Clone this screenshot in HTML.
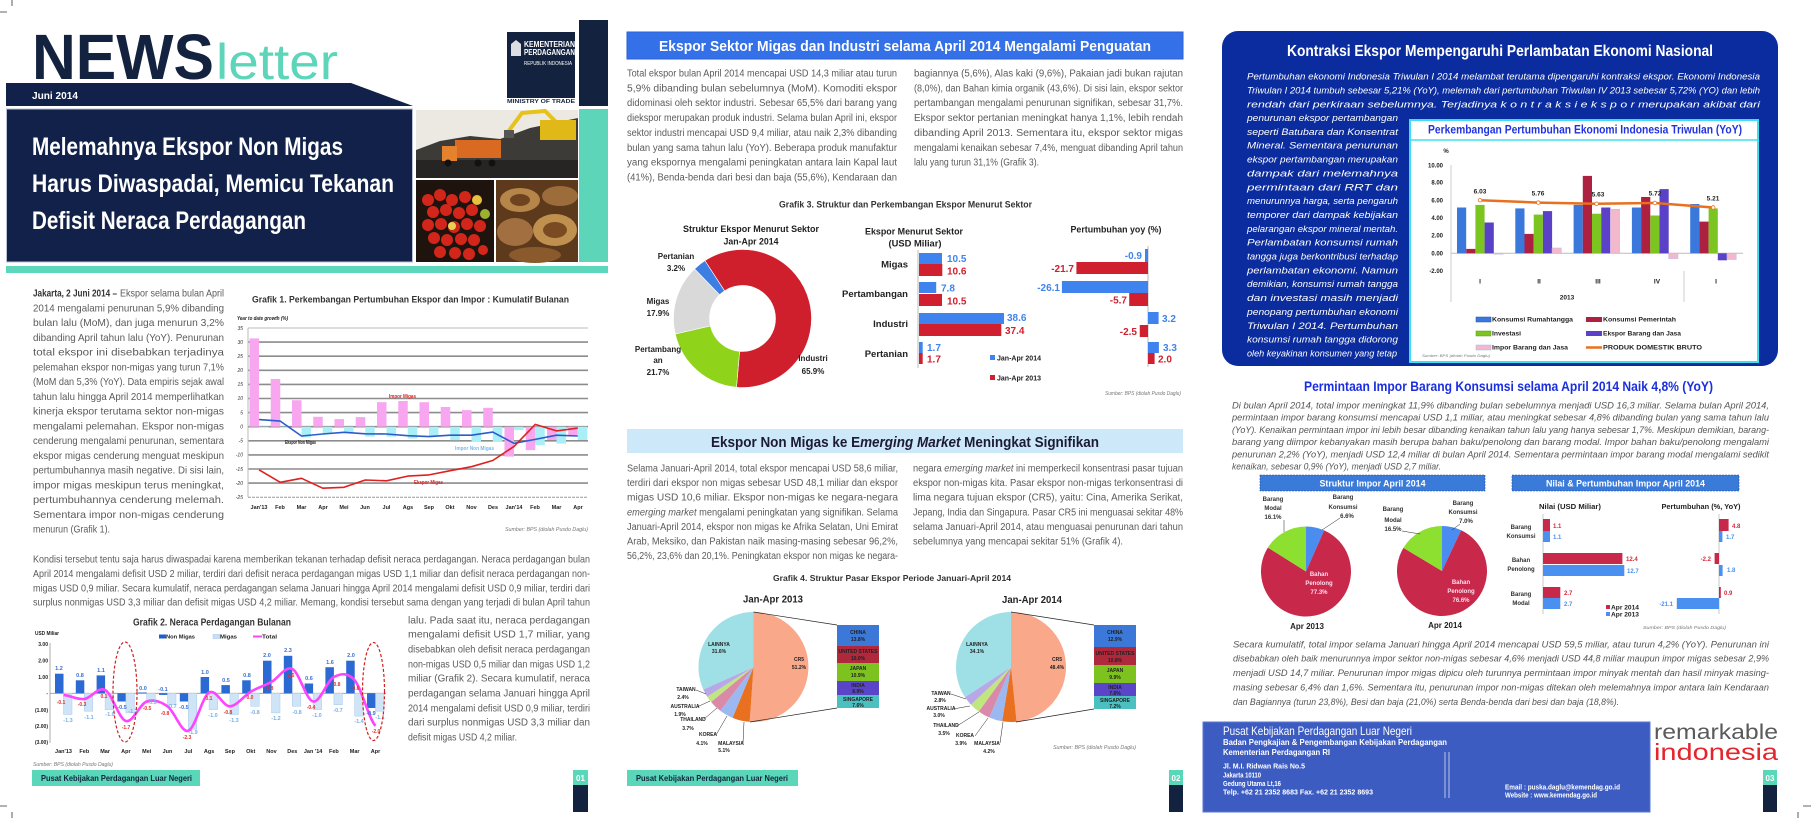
<!DOCTYPE html>
<html><head><meta charset="utf-8">
<style>
html,body{margin:0;padding:0;background:#fff;}
svg{display:block;}
text{font-family:"Liberation Sans",sans-serif;}
.p{font-size:10.5px;fill:#5b5b5b;}
.pm{font-size:10px;fill:#5b5b5b;}
.ri{font-size:9.5px;fill:#fff;font-style:italic;}
.gi{font-size:9.5px;fill:#555;font-style:italic;}
.b{font-weight:bold;}
.t5{font-size:5.5px;}
.t6{font-size:6px;}
.t7{font-size:7px;}
.t8{font-size:8px;}
.dk{fill:#222;}
.src{font-size:5.5px;fill:#777;font-style:italic;}
</style></head><body>
<svg width="1811" height="818" viewBox="0 0 1811 818" xmlns="http://www.w3.org/2000/svg">
<rect width="1811" height="818" fill="#fff"/>
<!-- crop marks -->
<path d="M0 12H7M12 0V6M0 806H7M12 812V818M1803 806H1811M1798 812V818" stroke="#333" stroke-width="0.8"/>

<!-- ================= LEFT PAGE ================= -->
<text x="32" y="79" font-size="64" font-weight="bold" fill="#13233f" textLength="182" lengthAdjust="spacingAndGlyphs">NEWS</text>
<text x="216" y="79" font-size="50" fill="#5dd5b9" textLength="122" lengthAdjust="spacingAndGlyphs">letter</text>
<polygon points="6,83 351,83 413,106 6,106" fill="#112149"/>
<text x="32" y="99" font-size="10" font-weight="bold" fill="#fff" textLength="46" lengthAdjust="spacingAndGlyphs">Juni 2014</text>
<rect x="6.5" y="109" width="406" height="153" fill="#112149" stroke="#b8c0d4" stroke-width="1"/>
<text x="32" y="155" font-size="25" font-weight="bold" fill="#fff" textLength="311" lengthAdjust="spacingAndGlyphs">Melemahnya Ekspor Non Migas</text>
<text x="32" y="192" font-size="25" font-weight="bold" fill="#fff" textLength="362" lengthAdjust="spacingAndGlyphs">Harus Diwaspadai, Memicu Tekanan</text>
<text x="32" y="229" font-size="25" font-weight="bold" fill="#fff" textLength="274" lengthAdjust="spacingAndGlyphs">Defisit Neraca Perdagangan</text>

<!-- logo -->
<rect x="507" y="32" width="68" height="66" fill="#13233f"/>
<path d="M511 44 L516 40 L521 44 L521 56 L511 56 Z" fill="#fff" opacity="0.85"/>
<text x="524" y="47" font-size="8" font-weight="bold" fill="#fff" textLength="51" lengthAdjust="spacingAndGlyphs">KEMENTERIAN</text>
<text x="524" y="55" font-size="8" font-weight="bold" fill="#fff" textLength="51" lengthAdjust="spacingAndGlyphs">PERDAGANGAN</text>
<text x="524" y="65" font-size="5" fill="#fff" textLength="48" lengthAdjust="spacingAndGlyphs">REPUBLIK INDONESIA</text>
<text x="507" y="103" font-size="5" font-weight="bold" fill="#13233f" textLength="68" lengthAdjust="spacingAndGlyphs">MINISTRY OF TRADE</text>
<rect x="579" y="20" width="29" height="86" fill="#13233f"/>
<rect x="579" y="109" width="29" height="153" fill="#5dd5b9"/>

<!-- truck image -->
<rect x="416" y="110" width="162" height="68" fill="#ece9e2"/>
<polygon points="416,150 440,141 470,136 500,139 530,128 578,118 578,178 416,178" fill="#3c3b38"/>
<rect x="416" y="160" width="162" height="18" fill="#262523"/>
<rect x="455" y="140" width="46" height="18" fill="#d86a22"/>
<rect x="442" y="146" width="15" height="15" fill="#e5822e"/>
<circle cx="448" cy="163" r="3.5" fill="#111"/><circle cx="478" cy="163" r="3.5" fill="#111"/><circle cx="492" cy="163" r="3.5" fill="#111"/>
<path d="M508 132 L522 113 L545 111 L560 126" stroke="#e6c21c" stroke-width="4" fill="none"/>
<rect x="540" y="120" width="36" height="20" fill="#e0b818"/>
<rect x="504" y="130" width="10" height="8" fill="#555"/>
<!-- coffee image -->
<rect x="416" y="180" width="78" height="82" fill="#1f130d"/>
<g fill="#d3261b">
<circle cx="428" cy="200" r="6"/><circle cx="440" cy="195" r="6"/><circle cx="452" cy="200" r="6"/><circle cx="465" cy="197" r="6"/>
<circle cx="433" cy="212" r="6"/><circle cx="446" cy="210" r="6"/><circle cx="459" cy="213" r="6"/><circle cx="472" cy="210" r="6"/>
<circle cx="428" cy="225" r="6"/><circle cx="441" cy="224" r="6"/><circle cx="454" cy="227" r="6"/><circle cx="467" cy="224" r="6"/><circle cx="480" cy="226" r="6"/>
<circle cx="434" cy="238" r="6"/><circle cx="447" cy="240" r="6"/><circle cx="461" cy="239" r="6"/><circle cx="474" cy="240" r="6"/>
<circle cx="440" cy="252" r="6"/><circle cx="455" cy="253" r="6"/><circle cx="469" cy="254" r="6"/><circle cx="483" cy="250" r="5"/>
</g>
<circle cx="477" cy="200" r="5" fill="#e8c040"/><circle cx="485" cy="214" r="5" fill="#9bb030"/><circle cx="452" cy="226" r="4" fill="#e8d050"/>
<!-- baskets image -->
<rect x="496" y="180" width="82" height="82" fill="#5e3a1c"/>
<ellipse cx="520" cy="200" rx="20" ry="12" fill="#b5854a"/>
<ellipse cx="560" cy="196" rx="18" ry="10" fill="#9c6c3a"/>
<ellipse cx="515" cy="232" rx="18" ry="14" fill="#a27040"/>
<ellipse cx="555" cy="230" rx="22" ry="16" fill="#c0904e"/>
<ellipse cx="535" cy="255" rx="26" ry="8" fill="#8a5a2c"/>
<ellipse cx="555" cy="230" rx="12" ry="8" fill="#7a4a22"/>
<ellipse cx="520" cy="200" rx="10" ry="6" fill="#6e4420"/>

<rect x="6" y="266" width="602" height="7" fill="#5dd8bd"/>

<!-- left paragraph -->
<text x="33" y="296.5" class="p b" fill="#333" style="fill:#333" textLength="84" lengthAdjust="spacingAndGlyphs">Jakarta, 2 Juni 2014 –</text>
<text x="120" y="296.5" class="p" textLength="104" lengthAdjust="spacingAndGlyphs">Ekspor selama bulan April</text>
<text x="33" y="311.25" class="p" textLength="191" lengthAdjust="spacingAndGlyphs">2014 mengalami penurunan 5,9% dibanding</text>
<text x="33" y="326" class="p" textLength="191" lengthAdjust="spacingAndGlyphs">bulan lalu (MoM), dan juga menurun 3,2%</text>
<text x="33" y="340.75" class="p" textLength="191" lengthAdjust="spacingAndGlyphs">dibanding April tahun lalu (YoY). Penurunan</text>
<text x="33" y="355.5" class="p" textLength="191" lengthAdjust="spacingAndGlyphs">total ekspor ini disebabkan terjadinya</text>
<text x="33" y="370.25" class="p" textLength="191" lengthAdjust="spacingAndGlyphs">pelemahan ekspor non-migas yang turun 7,1%</text>
<text x="33" y="385" class="p" textLength="191" lengthAdjust="spacingAndGlyphs">(MoM dan 5,3% (YoY).  Data empiris sejak awal</text>
<text x="33" y="399.75" class="p" textLength="191" lengthAdjust="spacingAndGlyphs">tahun lalu hingga April 2014 memperlihatkan</text>
<text x="33" y="414.5" class="p" textLength="191" lengthAdjust="spacingAndGlyphs">kinerja ekspor terutama sektor non-migas</text>
<text x="33" y="429.25" class="p" textLength="191" lengthAdjust="spacingAndGlyphs">mengalami pelemahan. Ekspor non-migas</text>
<text x="33" y="444" class="p" textLength="191" lengthAdjust="spacingAndGlyphs">cenderung mengalami penurunan, sementara</text>
<text x="33" y="458.75" class="p" textLength="191" lengthAdjust="spacingAndGlyphs">ekspor migas cenderung menguat meskipun</text>
<text x="33" y="473.5" class="p" textLength="191" lengthAdjust="spacingAndGlyphs">pertumbuhannya masih negative. Di sisi lain,</text>
<text x="33" y="488.25" class="p" textLength="191" lengthAdjust="spacingAndGlyphs">impor migas meskipun terus meningkat,</text>
<text x="33" y="503" class="p" textLength="191" lengthAdjust="spacingAndGlyphs">pertumbuhannya cenderung melemah.</text>
<text x="33" y="517.75" class="p" textLength="191" lengthAdjust="spacingAndGlyphs">Sementara impor non-migas cenderung</text>
<text x="33" y="532.5" class="p" textLength="77" lengthAdjust="spacingAndGlyphs">menurun (Grafik 1).</text>

<!-- Grafik 1 -->
<text x="252" y="302.5" font-size="9.5" font-weight="bold" fill="#333" textLength="317" lengthAdjust="spacingAndGlyphs">Grafik 1. Perkembangan Pertumbuhan Ekspor dan Impor : Kumulatif Bulanan</text>
<text x="237" y="320" font-size="5" font-weight="bold" font-style="italic" fill="#222" textLength="51" lengthAdjust="spacingAndGlyphs">Year to date growth (%)</text>
<g stroke="#8c8c8c" stroke-width="1.6">
<line x1="248" y1="328" x2="588" y2="328" stroke="#bbb" stroke-width="1"/>
<line x1="248" y1="342.1" x2="588" y2="342.1"/><line x1="248" y1="356.2" x2="588" y2="356.2"/>
<line x1="248" y1="370.3" x2="588" y2="370.3"/><line x1="248" y1="384.4" x2="588" y2="384.4"/>
<line x1="248" y1="398.5" x2="588" y2="398.5"/><line x1="248" y1="412.6" x2="588" y2="412.6"/>
<line x1="248" y1="426.7" x2="588" y2="426.7"/><line x1="248" y1="440.8" x2="588" y2="440.8"/>
<line x1="248" y1="454.9" x2="588" y2="454.9"/><line x1="248" y1="469" x2="588" y2="469"/>
<line x1="248" y1="483.1" x2="588" y2="483.1"/><line x1="248" y1="497.2" x2="588" y2="497.2" stroke="#999" stroke-width="1" stroke-dasharray="3,1"/>
</g>
<line x1="248" y1="328" x2="248" y2="497" stroke="#bbb" stroke-width="1"/>
<g font-size="5" font-style="italic" fill="#333" text-anchor="end">
<text x="243" y="330">35</text><text x="243" y="344">30</text><text x="243" y="358">25</text><text x="243" y="372">20</text>
<text x="243" y="386">15</text><text x="243" y="400">10</text><text x="243" y="414.5">5</text><text x="243" y="428.5">0</text>
<text x="243" y="442.5">-5</text><text x="243" y="456.5">-10</text><text x="243" y="471">-15</text><text x="243" y="485">-20</text><text x="243" y="499">-25</text>
</g>
<g fill="#f7a6ef">
<rect x="249.5" y="338.4" width="9.5" height="88.3"/><rect x="270.75" y="379" width="9.5" height="47.7"/>
<rect x="292" y="400.2" width="9.5" height="26.5"/><rect x="313.25" y="416.8" width="9.5" height="9.9"/>
<rect x="334.5" y="419.1" width="9.5" height="7.6"/><rect x="355.75" y="417.1" width="9.5" height="9.6"/>
<rect x="377" y="402.2" width="9.5" height="24.5"/><rect x="398.25" y="401" width="9.5" height="25.7"/>
<rect x="419.5" y="402.2" width="9.5" height="24.5"/><rect x="440.75" y="407" width="9.5" height="19.7"/>
<rect x="462" y="410.1" width="9.5" height="16.6"/><rect x="483.25" y="407.8" width="9.5" height="18.9"/>
<rect x="504.5" y="426.7" width="9.5" height="29.9"/><rect x="525.75" y="426.7" width="9.5" height="23.4"/>
<rect x="547" y="426.7" width="9.5" height="13.3"/><rect x="568.25" y="426.7" width="9.5" height="8.5"/>
</g>
<g fill="#a9eff7">
<rect x="259" y="426.7" width="9.5" height="1.1"/><rect x="280.25" y="426.7" width="9.5" height="0.6"/>
<rect x="301.5" y="426.7" width="9.5" height="10.7"/><rect x="322.75" y="426.7" width="9.5" height="7.1"/>
<rect x="344" y="426.7" width="9.5" height="5.9"/><rect x="365.25" y="426.7" width="9.5" height="9.9"/>
<rect x="386.5" y="426.7" width="9.5" height="9.9"/><rect x="407.75" y="426.7" width="9.5" height="11.8"/>
<rect x="429" y="426.7" width="9.5" height="9.9"/><rect x="450.25" y="426.7" width="9.5" height="13.5"/>
<rect x="471.5" y="426.7" width="9.5" height="14.9"/><rect x="492.75" y="426.7" width="9.5" height="14.9"/>
<rect x="514" y="426.7" width="9.5" height="3.4"/><rect x="535.25" y="426.7" width="9.5" height="18.3"/>
<rect x="556.5" y="426.7" width="9.5" height="16.9"/><rect x="577.75" y="426.7" width="9.5" height="13.3"/>
</g>
<polyline fill="none" stroke="#2c5ccc" stroke-width="1.6" stroke-linejoin="round" points="259,419.6 280.25,421.1 301.5,436 322.75,434 344,432.3 365.25,433.8 386.5,434 407.75,435.7 429,436.6 450.25,435.2 471.5,435.2 492.75,432.1 514,443.3 535.25,439.4 556.5,435.2 577.75,436"/>
<polyline fill="none" stroke="#e02020" stroke-width="1.6" stroke-linejoin="round" points="259,469.8 280.25,482.3 301.5,478.3 322.75,488.2 344,487.3 365.25,480 386.5,480.8 407.75,476.1 429,474.9 450.25,470.7 471.5,466.7 492.75,460.5 514,446.4 535.25,424.4 556.5,430.9 577.75,428.1"/>
<g font-size="5" font-weight="bold">
<text x="389" y="398" fill="#e02020" textLength="27" lengthAdjust="spacingAndGlyphs">Impor Migas</text>
<text x="285" y="444" fill="#222" textLength="31" lengthAdjust="spacingAndGlyphs">Ekspor Non Migas</text>
<text x="455" y="450" fill="#7ab8f0" textLength="39" lengthAdjust="spacingAndGlyphs">Impor Non Migas</text>
<text x="414" y="484" fill="#e02020" textLength="29" lengthAdjust="spacingAndGlyphs">Ekspor Migas</text>
</g>
<g font-size="5.5" font-weight="bold" fill="#222" text-anchor="middle">
<text x="259" y="509">Jan'13</text><text x="280" y="509">Feb</text><text x="301.5" y="509">Mar</text><text x="323" y="509">Apr</text>
<text x="344" y="509">Mei</text><text x="365" y="509">Jun</text><text x="386.5" y="509">Jul</text><text x="408" y="509">Ags</text>
<text x="429" y="509">Sep</text><text x="450" y="509">Okt</text><text x="471.5" y="509">Nov</text><text x="493" y="509">Des</text>
<text x="514" y="509">Jan'14</text><text x="535" y="509">Feb</text><text x="556.5" y="509">Mar</text><text x="578" y="509">Apr</text>
</g>
<text x="505" y="531" class="src" textLength="83" lengthAdjust="spacingAndGlyphs">Sumber: BPS (diolah Pusdo Daglu)</text>

<!-- bottom paragraph -->
<text x="33" y="562.5" class="p" textLength="557" lengthAdjust="spacingAndGlyphs">Kondisi tersebut tentu saja harus diwaspadai karena memberikan tekanan terhadap defisit neraca perdagangan. Neraca perdagangan bulan</text>
<text x="33" y="577" class="p" textLength="557" lengthAdjust="spacingAndGlyphs">April 2014 mengalami defisit USD 2 miliar, terdiri dari defisit neraca perdagangan migas USD 1,1 miliar dan defisit neraca perdagangan non-</text>
<text x="33" y="591.5" class="p" textLength="557" lengthAdjust="spacingAndGlyphs">migas USD 0,9 miliar. Secara kumulatif, neraca perdagangan selama Januari hingga April 2014 mengalami defisit USD 0,9 miliar, terdiri dari</text>
<text x="33" y="605.5" class="p" textLength="557" lengthAdjust="spacingAndGlyphs">surplus nonmigas USD 3,3 miliar dan defisit migas USD 4,2 miliar. Memang, kondisi tersebut sama dengan yang terjadi di bulan April tahun</text>

<text x="408" y="623.5" class="p" textLength="182" lengthAdjust="spacingAndGlyphs">lalu. Pada saat itu, neraca perdagangan</text>
<text x="408" y="637.5" class="p" textLength="182" lengthAdjust="spacingAndGlyphs">mengalami defisit USD 1,7 miliar, yang</text>
<text x="408" y="652.5" class="p" textLength="182" lengthAdjust="spacingAndGlyphs">disebabkan oleh defisit neraca perdagangan</text>
<text x="408" y="667.5" class="p" textLength="182" lengthAdjust="spacingAndGlyphs">non-migas USD 0,5 miliar dan migas USD 1,2</text>
<text x="408" y="681.5" class="p" textLength="182" lengthAdjust="spacingAndGlyphs">miliar (Grafik 2). Secara kumulatif, neraca</text>
<text x="408" y="696.5" class="p" textLength="182" lengthAdjust="spacingAndGlyphs">perdagangan selama Januari hingga April</text>
<text x="408" y="711.5" class="p" textLength="182" lengthAdjust="spacingAndGlyphs">2014 mengalami defisit USD 0,9 miliar, terdiri</text>
<text x="408" y="725.5" class="p" textLength="182" lengthAdjust="spacingAndGlyphs">dari surplus nonmigas USD 3,3 miliar dan</text>
<text x="408" y="740.5" class="p" textLength="109" lengthAdjust="spacingAndGlyphs">defisit migas USD 4,2 miliar.</text>

<!-- Grafik 2 -->
<text x="133" y="625.5" font-size="10" font-weight="bold" fill="#333" textLength="158" lengthAdjust="spacingAndGlyphs">Grafik 2. Neraca Perdagangan Bulanan</text>
<text x="35" y="635" font-size="5.5" font-weight="bold" fill="#222" textLength="24" lengthAdjust="spacingAndGlyphs">USD Miliar</text>
<rect x="159" y="634.5" width="7" height="4" fill="#1f5fc8"/>
<text x="166" y="638.5" font-size="5.5" font-weight="bold" fill="#222" textLength="29" lengthAdjust="spacingAndGlyphs">Non Migas</text>
<rect x="213" y="634.5" width="7" height="4" fill="#c7e0f6" stroke="#9cc0e8" stroke-width="0.5"/>
<text x="220" y="638.5" font-size="5.5" font-weight="bold" fill="#222" textLength="17" lengthAdjust="spacingAndGlyphs">Migas</text>
<line x1="253" y1="636.5" x2="262" y2="636.5" stroke="#ff44ff" stroke-width="2"/>
<text x="262" y="638.5" font-size="5.5" font-weight="bold" fill="#222" textLength="15" lengthAdjust="spacingAndGlyphs">Total</text>
<g font-size="5" font-weight="bold" fill="#222" text-anchor="end">
<text x="48" y="646">3.00</text><text x="48" y="662.5">2.00</text><text x="48" y="679">1.00</text><text x="48" y="695">-</text>
<text x="48" y="712">(1.00)</text><text x="48" y="728">(2.00)</text><text x="48" y="744">(3.00)</text>
</g>
<line x1="50" y1="643" x2="50" y2="743" stroke="#999" stroke-width="0.8"/>
<line x1="50" y1="693.3" x2="386" y2="693.3" stroke="#999" stroke-width="0.8"/>
<g fill="#2a6ad2">
<rect x="55" y="673.7" width="8.5" height="19.6"/><rect x="75.8" y="680.3" width="8.5" height="13"/>
<rect x="96.6" y="675.4" width="8.5" height="17.9"/><rect x="117.4" y="693.3" width="8.5" height="8.2"/>
<rect x="138.2" y="692.5" width="8.5" height="0.8"/><rect x="159" y="693.3" width="8.5" height="1.6"/>
<rect x="179.8" y="693.3" width="8.5" height="8.2"/><rect x="200.6" y="677" width="8.5" height="16.3"/>
<rect x="221.4" y="685.1" width="8.5" height="8.2"/><rect x="242.2" y="680.3" width="8.5" height="13"/>
<rect x="263" y="660.7" width="8.5" height="32.6"/><rect x="283.8" y="655.8" width="8.5" height="37.5"/>
<rect x="304.6" y="683.5" width="8.5" height="9.8"/><rect x="325.4" y="667.2" width="8.5" height="26.1"/>
<rect x="346.2" y="660.7" width="8.5" height="32.6"/><rect x="367" y="693.3" width="8.5" height="14.7"/>
</g>
<g fill="#cfe4f7" stroke="#a9c9ea" stroke-width="0.5">
<rect x="63.5" y="693.3" width="8.5" height="21.2"/><rect x="84.3" y="693.3" width="8.5" height="17.9"/>
<rect x="105.1" y="693.3" width="8.5" height="16.3"/><rect x="125.9" y="693.3" width="8.5" height="19.6"/>
<rect x="146.7" y="693.3" width="8.5" height="8.2"/><rect x="167.5" y="693.3" width="8.5" height="11.4"/>
<rect x="188.3" y="693.3" width="8.5" height="35.9"/><rect x="209.1" y="693.3" width="8.5" height="16.3"/>
<rect x="229.9" y="693.3" width="8.5" height="21.2"/><rect x="250.7" y="693.3" width="8.5" height="13"/>
<rect x="271.5" y="693.3" width="8.5" height="19.6"/><rect x="292.3" y="693.3" width="8.5" height="13"/>
<rect x="313.1" y="693.3" width="8.5" height="16.3"/><rect x="333.9" y="693.3" width="8.5" height="11.4"/>
<rect x="354.7" y="693.3" width="8.5" height="22.8"/><rect x="375.5" y="693.3" width="8.5" height="17.9"/>
</g>
<path fill="none" stroke="#ff44ff" stroke-width="2.6" d="M63.5,694.9 C70.43,695.58 77.37,699.82 84.3,699.0 C91.23,698.18 98.17,686.33 105.1,690.0 C112.03,693.67 118.97,719.08 125.9,721.0 C132.83,722.92 139.77,703.95 146.7,701.5 C153.63,699.05 160.57,701.42 167.5,706.3 C174.43,711.18 181.37,733.1 188.3,730.8 C195.23,728.5 202.17,696.58 209.1,692.5 C216.03,688.42 222.97,706.43 229.9,706.3 C236.83,706.17 243.77,695.77 250.7,691.7 C257.63,687.63 264.57,685.7 271.5,681.9 C278.43,678.1 285.37,665.63 292.3,668.9 C299.23,672.17 306.17,700.15 313.1,701.5 C320.03,702.85 326.97,680.53 333.9,677.0 C340.83,673.47 347.77,672.15 354.7,680.3 C361.63,688.45 368.57,718.3 375.5,725.9"/>
<g font-size="5.5" font-weight="bold" fill="#3a6fd0" text-anchor="middle">
<text x="59" y="670">1.2</text><text x="80" y="677">0.8</text><text x="101" y="672">1.1</text><text x="122" y="709">-0.5</text>
<text x="143" y="690">0.0</text><text x="163" y="691">-0.1</text><text x="184" y="709">-0.5</text><text x="205" y="674">1.0</text>
<text x="226" y="682">0.5</text><text x="247" y="677">0.8</text><text x="267" y="657">2.0</text><text x="288" y="652">2.3</text>
<text x="309" y="680">0.6</text><text x="330" y="664">1.6</text><text x="351" y="657">2.0</text><text x="371" y="715">-0.9</text>
</g>
<g font-size="5.5" font-weight="bold" fill="#7aaee6" text-anchor="middle">
<text x="68" y="722">-1.3</text><text x="89" y="719">-1.1</text><text x="110" y="716">-1.0</text><text x="133" y="713">-1.2</text>
<text x="152" y="704">-0.5</text><text x="172" y="708">-0.7</text><text x="193" y="734">-1.9</text><text x="213" y="717">-1.0</text>
<text x="234" y="722">-1.3</text><text x="255" y="714">-0.8</text><text x="276" y="720">-1.2</text><text x="297" y="714">-0.8</text>
<text x="317" y="717">-1.0</text><text x="338" y="712">-0.7</text><text x="359" y="723">-1.4</text><text x="380" y="719">-1.1</text>
</g>
<g font-size="5" font-weight="bold" fill="#e03030" text-anchor="middle">
<text x="61" y="704">-0.1</text><text x="82" y="706">-0.3</text><text x="104" y="698">0.1</text><text x="126" y="729">-1.7</text>
<text x="147" y="710">-0.5</text><text x="165" y="715">-0.8</text><text x="187" y="739">-2.3</text><text x="209" y="700">0.1</text>
<text x="228" y="714">-0.8</text><text x="250" y="699">0.0</text><text x="270" y="690">0.8</text><text x="291" y="677">1.5</text>
<text x="311" y="709">-0.4</text><text x="337" y="686">0.8</text><text x="356" y="690">0.6</text><text x="376" y="733">-2.0</text>
</g>
<ellipse cx="125" cy="692" rx="12" ry="50" fill="none" stroke="#d02020" stroke-width="1.2" stroke-dasharray="3,2"/>
<ellipse cx="373.5" cy="691.5" rx="11" ry="49" fill="none" stroke="#d02020" stroke-width="1.2" stroke-dasharray="3,2"/>
<g font-size="5.5" font-weight="bold" fill="#222" text-anchor="middle">
<text x="63.5" y="753">Jan'13</text><text x="84.3" y="753">Feb</text><text x="105.1" y="753">Mar</text><text x="125.9" y="753">Apr</text>
<text x="146.7" y="753">Mei</text><text x="167.5" y="753">Jun</text><text x="188.3" y="753">Jul</text><text x="209.1" y="753">Ags</text>
<text x="229.9" y="753">Sep</text><text x="250.7" y="753">Okt</text><text x="271.5" y="753">Nov</text><text x="292.3" y="753">Des</text>
<text x="313.1" y="753">Jan '14</text><text x="333.9" y="753">Feb</text><text x="354.7" y="753">Mar</text><text x="375.5" y="753">Apr</text>
</g>
<text x="33" y="766" class="src" textLength="80" lengthAdjust="spacingAndGlyphs">Sumber: BPS (diolah Pusdo Daglu)</text>
<rect x="32" y="770" width="168" height="16" fill="#5ad6b9"/>
<text x="41" y="781" font-size="8.5" font-weight="bold" fill="#13233f" textLength="151" lengthAdjust="spacingAndGlyphs">Pusat Kebijakan Perdagangan Luar Negeri</text>
<rect x="573" y="770" width="15" height="15" fill="#5ad6b9"/>
<rect x="573" y="785" width="15" height="27" fill="#13233f"/>
<text x="580.5" y="781" font-size="8" font-weight="bold" fill="#fff" text-anchor="middle">01</text>

<!-- ================= MIDDLE PAGE ================= -->
<rect x="627" y="32" width="556" height="27" fill="#3471e8" stroke="#2a5ed6" stroke-width="1"/>
<text x="659" y="51" font-size="15" font-weight="bold" fill="#fff" textLength="492" lengthAdjust="spacingAndGlyphs">Ekspor Sektor Migas dan Industri selama April 2014 Mengalami Penguatan</text>

<text x="627" y="76.5" class="pm" textLength="270" lengthAdjust="spacingAndGlyphs">Total ekspor bulan April 2014 mencapai USD 14,3 miliar atau turun</text>
<text x="627" y="91.4" class="pm" textLength="270" lengthAdjust="spacingAndGlyphs">5,9% dibanding bulan sebelumnya (MoM). Komoditi ekspor</text>
<text x="627" y="106.2" class="pm" textLength="270" lengthAdjust="spacingAndGlyphs">didominasi oleh sektor industri. Sebesar 65,5% dari barang yang</text>
<text x="627" y="121.1" class="pm" textLength="270" lengthAdjust="spacingAndGlyphs">diekspor merupakan produk industri. Selama bulan April ini, ekspor</text>
<text x="627" y="135.9" class="pm" textLength="270" lengthAdjust="spacingAndGlyphs">sektor industri mencapai USD 9,4 miliar, atau naik 2,3% dibanding</text>
<text x="627" y="150.8" class="pm" textLength="270" lengthAdjust="spacingAndGlyphs">bulan yang sama tahun lalu (YoY). Beberapa produk manufaktur</text>
<text x="627" y="165.6" class="pm" textLength="270" lengthAdjust="spacingAndGlyphs">yang ekspornya mengalami peningkatan antara lain Kapal laut</text>
<text x="627" y="180.5" class="pm" textLength="270" lengthAdjust="spacingAndGlyphs">(41%), Benda-benda dari besi dan baja (55,6%), Kendaraan dan</text>
<text x="914" y="76.5" class="pm" textLength="269" lengthAdjust="spacingAndGlyphs">bagiannya (5,6%), Alas kaki (9,6%), Pakaian jadi bukan rajutan</text>
<text x="914" y="91.4" class="pm" textLength="269" lengthAdjust="spacingAndGlyphs">(8,0%), dan Bahan kimia organik (43,6%). Di sisi lain, ekspor sektor</text>
<text x="914" y="106.2" class="pm" textLength="269" lengthAdjust="spacingAndGlyphs">pertambangan mengalami penurunan signifikan, sebesar 31,7%.</text>
<text x="914" y="121.1" class="pm" textLength="269" lengthAdjust="spacingAndGlyphs">Ekspor sektor pertanian meningkat hanya 1,1%, lebih rendah</text>
<text x="914" y="135.9" class="pm" textLength="269" lengthAdjust="spacingAndGlyphs">dibanding April 2013. Sementara itu, ekspor sektor migas</text>
<text x="914" y="150.8" class="pm" textLength="269" lengthAdjust="spacingAndGlyphs">mengalami kenaikan sebesar 7,4%, menguat dibanding April tahun</text>
<text x="914" y="165.6" class="pm" textLength="125" lengthAdjust="spacingAndGlyphs">lalu yang turun 31,1% (Grafik 3).</text>

<!-- Grafik 3 -->
<text x="779" y="207.5" font-size="9" font-weight="bold" fill="#333" textLength="253" lengthAdjust="spacingAndGlyphs">Grafik 3. Struktur dan Perkembangan Ekspor Menurut Sektor</text>
<text x="751" y="232" font-size="9" font-weight="bold" fill="#222" text-anchor="middle" textLength="136" lengthAdjust="spacingAndGlyphs">Struktur Ekspor Menurut Sektor</text>
<text x="751" y="244.5" font-size="9" font-weight="bold" fill="#222" text-anchor="middle" textLength="55" lengthAdjust="spacingAndGlyphs">Jan-Apr 2014</text>
<path d="M704.92 260.63 A69 69 0 1 1 736.49 387.24 L739.62 351.37 A33 33 0 1 0 724.53 290.82 Z" fill="#cf1f2c" stroke="#fff" stroke-width="0.6"/>
<path d="M736.49 387.24 A69 69 0 0 1 675.27 334.02 L710.35 325.92 A33 33 0 0 0 739.62 351.37 Z" fill="#8fd31a" stroke="#fff" stroke-width="0.6"/>
<path d="M675.27 334.02 A69 69 0 0 1 694.57 268.87 L719.58 294.76 A33 33 0 0 0 710.35 325.92 Z" fill="#d9d9d9" stroke="#fff" stroke-width="0.6"/>
<path d="M694.57 268.87 A69 69 0 0 1 704.92 260.63 L724.53 290.82 A33 33 0 0 0 719.58 294.76 Z" fill="#3c7ee2" stroke="#fff" stroke-width="0.6"/>
<g font-size="8" font-weight="bold" fill="#222" text-anchor="middle">
<text x="676" y="259">Pertanian</text><text x="676" y="271">3.2%</text>
<text x="658" y="304">Migas</text><text x="658" y="316">17.9%</text>
<text x="658" y="352">Pertambang</text><text x="658" y="363">an</text><text x="658" y="375">21.7%</text>
<text x="813" y="361">Industri</text><text x="813" y="374">65.9%</text>
</g>
<text x="914" y="234.5" font-size="9.5" font-weight="bold" fill="#222" text-anchor="middle" textLength="98" lengthAdjust="spacingAndGlyphs">Ekspor Menurut Sektor</text>
<text x="915" y="246.5" font-size="9.5" font-weight="bold" fill="#222" text-anchor="middle" textLength="53" lengthAdjust="spacingAndGlyphs">(USD Miliar)</text>
<g font-size="9.5" font-weight="bold" fill="#222" text-anchor="end">
<text x="908" y="267.5">Migas</text><text x="908" y="297">Pertambangan</text><text x="908" y="327">Industri</text><text x="908" y="357">Pertanian</text>
</g>
<line x1="918" y1="250" x2="918" y2="368" stroke="#aaa" stroke-width="0.8"/>
<g fill="#3f84ee">
<rect x="919" y="253" width="23" height="11"/><rect x="919" y="282" width="17.2" height="11"/>
<rect x="919" y="313" width="85" height="11"/><rect x="919" y="342" width="3.7" height="11"/>
</g>
<g fill="#d01f2e">
<rect x="919" y="264" width="23.3" height="12"/><rect x="919" y="294" width="23" height="12"/>
<rect x="919" y="324" width="82.3" height="12"/><rect x="919" y="353" width="3.7" height="11"/>
</g>
<g font-size="10" font-weight="bold">
<text x="947" y="262" fill="#3f84ee">10.5</text><text x="947" y="274.5" fill="#d01f2e">10.6</text>
<text x="941" y="291.5" fill="#3f84ee">7.8</text><text x="947" y="304.5" fill="#d01f2e">10.5</text>
<text x="1007" y="321" fill="#3f84ee">38.6</text><text x="1005" y="334" fill="#d01f2e">37.4</text>
<text x="927" y="351" fill="#3f84ee">1.7</text><text x="927" y="362.5" fill="#d01f2e">1.7</text>
</g>
<rect x="990" y="355" width="5" height="5" fill="#3f84ee"/>
<text x="997" y="360.5" font-size="7.5" font-weight="bold" fill="#222" textLength="44" lengthAdjust="spacingAndGlyphs">Jan-Apr 2014</text>
<rect x="990" y="375" width="5" height="5" fill="#d01f2e"/>
<text x="997" y="380.5" font-size="7.5" font-weight="bold" fill="#222" textLength="44" lengthAdjust="spacingAndGlyphs">Jan-Apr 2013</text>

<text x="1116" y="232.5" font-size="9" font-weight="bold" fill="#222" text-anchor="middle" textLength="91" lengthAdjust="spacingAndGlyphs">Pertumbuhan yoy (%)</text>
<line x1="1148" y1="246" x2="1148" y2="367" stroke="#aaa" stroke-width="0.8"/>
<g fill="#3f84ee">
<rect x="1145" y="249" width="3" height="13"/><rect x="1061.9" y="281" width="86.1" height="12"/>
<rect x="1148" y="312" width="10.6" height="12"/><rect x="1148" y="342" width="10.9" height="11"/>
</g>
<g fill="#d01f2e">
<rect x="1076.4" y="262" width="71.6" height="12"/><rect x="1129.2" y="293" width="18.8" height="13"/>
<rect x="1139.75" y="325" width="8.25" height="12"/><rect x="1148" y="353" width="6.6" height="11"/>
</g>
<g font-size="10" font-weight="bold">
<text x="1142" y="259" fill="#3f84ee" text-anchor="end">-0.9</text>
<text x="1074" y="272" fill="#d01f2e" text-anchor="end">-21.7</text>
<text x="1060" y="291" fill="#3f84ee" text-anchor="end">-26.1</text>
<text x="1127" y="303.5" fill="#d01f2e" text-anchor="end">-5.7</text>
<text x="1162" y="322" fill="#3f84ee">3.2</text>
<text x="1137" y="335" fill="#d01f2e" text-anchor="end">-2.5</text>
<text x="1163" y="351" fill="#3f84ee">3.3</text>
<text x="1158" y="362.5" fill="#d01f2e">2.0</text>
</g>
<text x="1105" y="395" class="src" textLength="76" lengthAdjust="spacingAndGlyphs">Sumber: BPS (diolah Pusdo Daglu)</text>

<!-- second section -->
<rect x="627" y="429" width="556" height="24" fill="#cde8f9"/>
<text x="711" y="447" font-size="15" font-weight="bold" fill="#1b1b33" textLength="388" lengthAdjust="spacingAndGlyphs">Ekspor Non Migas ke E<tspan font-style="italic">merging Market</tspan> Meningkat Signifikan</text>
<text x="627" y="471.5" class="pm" textLength="271" lengthAdjust="spacingAndGlyphs">Selama Januari-April 2014, total ekspor mencapai USD 58,6 miliar,</text>
<text x="627" y="486.1" class="pm" textLength="271" lengthAdjust="spacingAndGlyphs">terdiri dari ekspor non migas sebesar USD 48,1 miliar dan ekspor</text>
<text x="627" y="500.7" class="pm" textLength="271" lengthAdjust="spacingAndGlyphs">migas USD 10,6 miliar. Ekspor non-migas ke negara-negara</text>
<text x="627" y="515.3" class="pm" textLength="271" lengthAdjust="spacingAndGlyphs"><tspan font-style="italic">emerging market</tspan> mengalami peningkatan yang signifikan. Selama</text>
<text x="627" y="529.9" class="pm" textLength="271" lengthAdjust="spacingAndGlyphs">Januari-April 2014, ekspor non migas ke Afrika Selatan, Uni Emirat</text>
<text x="627" y="544.5" class="pm" textLength="271" lengthAdjust="spacingAndGlyphs">Arab, Meksiko, dan Pakistan naik masing-masing sebesar 96,2%,</text>
<text x="627" y="559.1" class="pm" textLength="271" lengthAdjust="spacingAndGlyphs">56,2%, 23,6% dan 20,1%. Peningkatan ekspor non migas ke negara-</text>
<text x="913" y="471.5" class="pm" textLength="270" lengthAdjust="spacingAndGlyphs">negara <tspan font-style="italic">emerging market</tspan> ini memperkecil konsentrasi pasar tujuan</text>
<text x="913" y="486.1" class="pm" textLength="270" lengthAdjust="spacingAndGlyphs">ekspor non-migas kita. Pasar ekspor non-migas terkonsentrasi di</text>
<text x="913" y="500.7" class="pm" textLength="270" lengthAdjust="spacingAndGlyphs">lima negara tujuan ekspor (CR5), yaitu: Cina, Amerika Serikat,</text>
<text x="913" y="515.3" class="pm" textLength="270" lengthAdjust="spacingAndGlyphs">Jepang, India dan Singapura. Pasar CR5 ini menguasai sekitar 48%</text>
<text x="913" y="529.9" class="pm" textLength="270" lengthAdjust="spacingAndGlyphs">selama Januari-April 2014, atau menguasai penurunan dari tahun</text>
<text x="913" y="544.5" class="pm" textLength="210" lengthAdjust="spacingAndGlyphs">sebelumnya yang mencapai sekitar 51% (Grafik 4).</text>

<!-- Grafik 4 -->
<text x="773" y="581" font-size="8.5" font-weight="bold" fill="#333" textLength="238" lengthAdjust="spacingAndGlyphs">Grafik 4. Struktur Pasar Ekspor Periode Januari-April 2014</text>
<text x="773" y="602.5" font-size="10.5" font-weight="bold" fill="#222" text-anchor="middle" textLength="60" lengthAdjust="spacingAndGlyphs">Jan-Apr 2013</text>
<text x="1032" y="603" font-size="10.5" font-weight="bold" fill="#222" text-anchor="middle" textLength="60" lengthAdjust="spacingAndGlyphs">Jan-Apr 2014</text>
<!-- pie 2013 -->
<path d="M753.5 667 L753.5 612 A55 55 0 1 1 749.66 721.87 Z" fill="#f9a88a"/>
<path d="M753.5 667 L749.66 721.87 A55 55 0 0 1 732.54 717.85 Z" fill="#e8701e"/>
<path d="M753.5 667 L732.54 717.85 A55 55 0 0 1 720.25 710.81 Z" fill="#9bb8f0"/>
<path d="M753.5 667 L720.25 710.81 A55 55 0 0 1 711.06 701.98 Z" fill="#d98aa8"/>
<path d="M753.5 667 L711.06 701.98 A55 55 0 0 1 707.22 696.71 Z" fill="#c0e680"/>
<path d="M753.5 667 L707.22 696.71 A55 55 0 0 1 703.29 689.46 Z" fill="#b8a8e8"/>
<path d="M753.5 667 L703.29 689.46 A55 55 0 0 1 753.5 612 Z" fill="#9ee0e6"/>
<line x1="753.5" y1="612" x2="837" y2="625" stroke="#222" stroke-width="0.7"/>
<line x1="750" y1="722" x2="837" y2="708" stroke="#222" stroke-width="0.7"/>
<rect x="837" y="625" width="42" height="21" fill="#3c78d8"/>
<rect x="837" y="646" width="42" height="17" fill="#b0283c"/>
<rect x="837" y="663" width="42" height="18" fill="#7dc21e"/>
<rect x="837" y="681" width="42" height="14" fill="#5a45c8"/>
<rect x="837" y="695" width="42" height="13" fill="#4cc0c0"/>
<g font-size="5" font-weight="bold" fill="#222" text-anchor="middle">
<text x="858" y="634">CHINA</text><text x="858" y="641">13.8%</text>
<text x="858" y="653">UNITED STATES</text><text x="858" y="660">10.0%</text>
<text x="858" y="670">JAPAN</text><text x="858" y="677">10.9%</text>
<text x="858" y="687">INDIA</text><text x="858" y="693">8.9%</text>
<text x="858" y="701">SINGAPORE</text><text x="858" y="707">7.6%</text>
<text x="719" y="646">LAINNYA</text><text x="719" y="653">31.6%</text>
<text x="799" y="661">CR5</text><text x="799" y="669">51.2%</text>
<text x="686" y="691">TAIWAN</text><text x="683" y="699">2.4%</text>
<text x="685" y="708">AUSTRALIA</text><text x="680" y="716">1.9%</text>
<text x="693" y="721">THAILAND</text><text x="688" y="730">3.7%</text>
<text x="708" y="736">KOREA</text><text x="702" y="745">4.1%</text>
<text x="731" y="745">MALAYSIA</text><text x="724" y="752">5.1%</text>
</g>
<g stroke="#222" stroke-width="0.5" fill="none">
<path d="M696 690 L706 694"/><path d="M697 707 L710 701"/><path d="M704 719 L717 708"/><path d="M716 735 L727 716"/><path d="M743 743 L744 722"/>
</g>
<!-- pie 2014 -->
<path d="M1011 667 L1011 612 A55 55 0 0 1 1016.56 721.72 Z" fill="#f9a88a"/>
<path d="M1011 667 L1016.56 721.72 A55 55 0 0 1 1002.11 721.28 Z" fill="#e8701e"/>
<path d="M1011 667 L1002.11 721.28 A55 55 0 0 1 989.24 717.51 Z" fill="#9bb8f0"/>
<path d="M1011 667 L989.24 717.51 A55 55 0 0 1 978.75 711.55 Z" fill="#d98aa8"/>
<path d="M1011 667 L978.75 711.55 A55 55 0 0 1 970.97 704.72 Z" fill="#c0e680"/>
<path d="M1011 667 L970.97 704.72 A55 55 0 0 1 964.98 697.12 Z" fill="#b8a8e8"/>
<path d="M1011 667 L964.98 697.12 A55 55 0 0 1 1011 612 Z" fill="#9ee0e6"/>
<line x1="1011" y1="612" x2="1094" y2="625" stroke="#222" stroke-width="0.7"/>
<line x1="1016" y1="722" x2="1094" y2="709" stroke="#222" stroke-width="0.7"/>
<rect x="1094" y="625" width="42" height="22" fill="#3c78d8"/>
<rect x="1094" y="647" width="42" height="18" fill="#b0283c"/>
<rect x="1094" y="665" width="42" height="18" fill="#7dc21e"/>
<rect x="1094" y="683" width="42" height="13" fill="#5a45c8"/>
<rect x="1094" y="696" width="42" height="13" fill="#4cc0c0"/>
<g font-size="5" font-weight="bold" fill="#222" text-anchor="middle">
<text x="1115" y="634">CHINA</text><text x="1115" y="641">12.9%</text>
<text x="1115" y="655">UNITED STATES</text><text x="1115" y="662">10.8%</text>
<text x="1115" y="672">JAPAN</text><text x="1115" y="679">9.9%</text>
<text x="1115" y="689">INDIA</text><text x="1115" y="695">7.6%</text>
<text x="1115" y="702">SINGAPORE</text><text x="1115" y="708">7.2%</text>
<text x="977" y="646">LAINNYA</text><text x="977" y="653">34.1%</text>
<text x="1057" y="661">CR5</text><text x="1057" y="669">48.4%</text>
<text x="941" y="695">TAIWAN</text><text x="940" y="702">2.8%</text>
<text x="941" y="710">AUSTRALIA</text><text x="939" y="717">3.0%</text>
<text x="946" y="727">THAILAND</text><text x="944" y="735">3.5%</text>
<text x="965" y="737">KOREA</text><text x="961" y="745">3.9%</text>
<text x="987" y="745">MALAYSIA</text><text x="989" y="753">4.2%</text>
</g>
<g stroke="#222" stroke-width="0.5" fill="none">
<path d="M951 694 L966 699"/><path d="M953 709 L970 706"/><path d="M957 726 L979 712"/><path d="M975 736 L988 718"/><path d="M1000 743 L1003 722"/>
</g>
<text x="1053" y="749" class="src" textLength="83" lengthAdjust="spacingAndGlyphs">Sumber: BPS (diolah Pusdo Daglu)</text>

<rect x="627" y="770" width="171" height="16" fill="#5ad6b9"/>
<text x="636" y="781" font-size="8.5" font-weight="bold" fill="#13233f" textLength="152" lengthAdjust="spacingAndGlyphs">Pusat Kebijakan Perdagangan Luar Negeri</text>
<rect x="1169" y="770" width="14" height="15" fill="#5ad6b9"/>
<rect x="1169" y="785" width="14" height="27" fill="#13233f"/>
<text x="1176" y="781" font-size="8" font-weight="bold" fill="#fff" text-anchor="middle">02</text>

<!-- ================= RIGHT PAGE ================= -->
<rect x="1222" y="31" width="556" height="335" rx="16" ry="16" fill="#0b2c9e"/>
<text x="1287" y="56" font-size="16" font-weight="bold" fill="#fff" textLength="426" lengthAdjust="spacingAndGlyphs">Kontraksi Ekspor Mempengaruhi Perlambatan Ekonomi Nasional</text>
<text x="1247" y="79.5" class="ri" textLength="513" lengthAdjust="spacingAndGlyphs">Pertumbuhan ekonomi Indonesia Triwulan I 2014 melambat terutama dipengaruhi kontraksi ekspor. Ekonomi Indonesia</text>
<text x="1247" y="93.5" class="ri" textLength="513" lengthAdjust="spacingAndGlyphs">Triwulan I 2014 tumbuh sebesar 5,21% (YoY), melemah dari pertumbuhan Triwulan IV 2013 sebesar 5,72% (YO) dan lebih</text>
<text x="1247" y="107.5" class="ri" textLength="513" lengthAdjust="spacingAndGlyphs">rendah dari perkiraan sebelumnya. Terjadinya      k o n t r a k s i   e k s p o r    merupakan akibat dari</text>
<g class="ri">
<text x="1247" y="121" textLength="151" lengthAdjust="spacingAndGlyphs">penurunan ekspor pertambangan</text>
<text x="1247" y="134.9" textLength="151" lengthAdjust="spacingAndGlyphs">seperti Batubara dan Konsentrat</text>
<text x="1247" y="148.7" textLength="151" lengthAdjust="spacingAndGlyphs">Mineral. Sementara penurunan</text>
<text x="1247" y="162.6" textLength="151" lengthAdjust="spacingAndGlyphs">ekspor pertambangan merupakan</text>
<text x="1247" y="176.4" textLength="151" lengthAdjust="spacingAndGlyphs">dampak dari melemahnya</text>
<text x="1247" y="190.3" textLength="151" lengthAdjust="spacingAndGlyphs">permintaan dari RRT dan</text>
<text x="1247" y="204.1" textLength="151" lengthAdjust="spacingAndGlyphs">menurunnya harga, serta pengaruh</text>
<text x="1247" y="218" textLength="151" lengthAdjust="spacingAndGlyphs">temporer dari dampak kebijakan</text>
<text x="1247" y="231.8" textLength="151" lengthAdjust="spacingAndGlyphs">pelarangan ekspor mineral mentah.</text>
<text x="1247" y="245.7" textLength="151" lengthAdjust="spacingAndGlyphs">Perlambatan  konsumsi rumah</text>
<text x="1247" y="259.5" textLength="151" lengthAdjust="spacingAndGlyphs">tangga juga berkontribusi terhadap</text>
<text x="1247" y="273.4" textLength="151" lengthAdjust="spacingAndGlyphs">perlambatan ekonomi. Namun</text>
<text x="1247" y="287.2" textLength="151" lengthAdjust="spacingAndGlyphs">demikian, konsumsi rumah tangga</text>
<text x="1247" y="301.1" textLength="151" lengthAdjust="spacingAndGlyphs">dan investasi masih menjadi</text>
<text x="1247" y="314.9" textLength="151" lengthAdjust="spacingAndGlyphs">penopang pertumbuhan ekonomi</text>
<text x="1247" y="328.8" textLength="151" lengthAdjust="spacingAndGlyphs">Triwulan I 2014. Pertumbuhan</text>
<text x="1247" y="342.6" textLength="151" lengthAdjust="spacingAndGlyphs">konsumsi rumah tangga didorong</text>
<text x="1247" y="356.5" textLength="150" lengthAdjust="spacingAndGlyphs">oleh keyakinan konsumen yang  tetap</text>
</g>

<!-- PDB chart -->
<rect x="1410" y="120" width="348" height="242" fill="#fff" stroke="#3ee0f0" stroke-width="2"/>
<line x1="1411" y1="140" x2="1757" y2="140" stroke="#3ee0f0" stroke-width="1.5"/>
<text x="1428" y="133.5" font-size="11.5" font-weight="bold" fill="#1f33e0" textLength="314" lengthAdjust="spacingAndGlyphs">Perkembangan Pertumbuhan Ekonomi Indonesia Triwulan (YoY)</text>
<text x="1446" y="153" font-size="6" font-weight="bold" fill="#222" text-anchor="middle">%</text>
<g font-size="6" font-weight="bold" fill="#222" text-anchor="end">
<text x="1443" y="167.5">10.00</text><text x="1443" y="184.5">8.00</text><text x="1443" y="202.5">6.00</text><text x="1443" y="220">4.00</text>
<text x="1443" y="237.5">2.00</text><text x="1443" y="255.5">0.00</text><text x="1443" y="273">-2.00</text>
</g>
<line x1="1451" y1="165" x2="1451" y2="302" stroke="#ccc" stroke-width="1"/>
<line x1="1451" y1="253.3" x2="1743" y2="253.3" stroke="#bbb" stroke-width="1"/>
<line x1="1684" y1="271" x2="1684" y2="302" stroke="#ccc" stroke-width="1"/>
<!-- group bars -->
<g fill="#3b78dc">
<rect x="1457" y="207.5" width="9.2" height="45.8"/><rect x="1515.3" y="208.4" width="9.2" height="44.9"/>
<rect x="1573.6" y="204.9" width="9.2" height="48.4"/><rect x="1631.9" y="207.5" width="9.2" height="45.8"/>
<rect x="1690.2" y="204" width="9.2" height="49.3"/>
</g>
<g fill="#ad2040">
<rect x="1466.2" y="248.9" width="9.2" height="4.4"/><rect x="1524.5" y="233.9" width="9.2" height="19.4"/>
<rect x="1582.8" y="175.9" width="9.2" height="77.4"/><rect x="1641.1" y="197" width="9.2" height="56.3"/>
<rect x="1699.4" y="221.6" width="9.2" height="31.7"/>
</g>
<g fill="#7cc520">
<rect x="1475.4" y="204.9" width="9.2" height="48.4"/><rect x="1533.7" y="214.6" width="9.2" height="38.7"/>
<rect x="1592" y="213.7" width="9.2" height="39.6"/><rect x="1650.3" y="215.5" width="9.2" height="37.8"/>
<rect x="1708.6" y="208.4" width="9.2" height="44.9"/>
</g>
<g fill="#5b40c8">
<rect x="1484.6" y="222.5" width="9.2" height="30.8"/><rect x="1542.9" y="211.1" width="9.2" height="42.2"/>
<rect x="1601.2" y="207.5" width="9.2" height="45.8"/><rect x="1659.5" y="189.1" width="9.2" height="64.2"/>
<rect x="1717.8" y="253.3" width="9.2" height="7"/>
</g>
<g fill="#f4b8cc" stroke="#c8b8e8" stroke-width="0.6">
<rect x="1493.8" y="253.3" width="9.2" height="0.9"/><rect x="1552.1" y="248" width="9.2" height="5.3"/>
<rect x="1610.4" y="209.3" width="9.2" height="44"/><rect x="1668.7" y="253.3" width="9.2" height="5.3"/>
<rect x="1727" y="253.3" width="9.2" height="6.2"/>
</g>
<polyline points="1480,200.2 1538.3,202.6 1596.6,203.8 1654.9,203 1713.2,207.5" fill="none" stroke="#e8701e" stroke-width="2.5"/>
<g fill="#fff" stroke="#e8701e" stroke-width="0.8">
<circle cx="1480" cy="200.2" r="1.8"/><circle cx="1538.3" cy="202.6" r="1.8"/><circle cx="1596.6" cy="203.8" r="1.8"/><circle cx="1654.9" cy="203" r="1.8"/><circle cx="1713.2" cy="207.5" r="1.8"/>
</g>
<g font-size="6.5" font-weight="bold" fill="#222" text-anchor="middle">
<text x="1480" y="193.5">6.03</text><text x="1538" y="195.5">5.76</text><text x="1598" y="196.5">5.63</text><text x="1655" y="195.5">5.72</text><text x="1713" y="200.5">5.21</text>
<text x="1480" y="283.5">I</text><text x="1539" y="283.5">II</text><text x="1598" y="283.5">III</text><text x="1657" y="283.5">IV</text><text x="1716" y="283.5">I</text>
<text x="1567" y="299.5">2013</text>
</g>
<g font-size="6.5" font-weight="bold" fill="#222">
<rect x="1476" y="317" width="15" height="5" fill="#3b78dc" stroke="#2050b0" stroke-width="0.5"/>
<text x="1492" y="321.5" textLength="81" lengthAdjust="spacingAndGlyphs">Konsumsi Rumahtangga</text>
<rect x="1586" y="317" width="16" height="5" fill="#ad2040"/>
<text x="1603" y="321.5" textLength="73" lengthAdjust="spacingAndGlyphs">Konsumsi Pemerintah</text>
<rect x="1476" y="331" width="15" height="5" fill="#7cc520" stroke="#50a010" stroke-width="0.5"/>
<text x="1492" y="335.5" textLength="29" lengthAdjust="spacingAndGlyphs">Investasi</text>
<rect x="1586" y="331" width="16" height="5" fill="#5b40c8"/>
<text x="1603" y="335.5" textLength="78" lengthAdjust="spacingAndGlyphs">Ekspor Barang dan Jasa</text>
<rect x="1476" y="345" width="15" height="5" fill="#f4b8cc" stroke="#a0b8e8" stroke-width="0.5"/>
<text x="1492" y="349.5" textLength="76" lengthAdjust="spacingAndGlyphs">Impor Barang dan Jasa</text>
<line x1="1586" y1="347.5" x2="1602" y2="347.5" stroke="#e8701e" stroke-width="2.5"/>
<text x="1603" y="349.5" textLength="99" lengthAdjust="spacingAndGlyphs">PRODUK DOMESTIK BRUTO</text>
</g>
<text x="1422" y="357" class="src" font-size="4" style="font-size:4px" textLength="68" lengthAdjust="spacingAndGlyphs">Sumber: BPS (diolah Pusdo Daglu)</text>

<!-- Permintaan Impor -->
<text x="1304" y="391" font-size="14" font-weight="bold" fill="#1b2fe0" textLength="409" lengthAdjust="spacingAndGlyphs">Permintaan Impor Barang Konsumsi selama April 2014 Naik 4,8% (YoY)</text>
<text x="1232" y="408.5" class="gi" textLength="537" lengthAdjust="spacingAndGlyphs">Di bulan April 2014, total impor meningkat 11,9% dibanding bulan sebelumnya menjadi USD 16,3 miliar. Selama bulan April 2014,</text>
<text x="1232" y="420.7" class="gi" textLength="537" lengthAdjust="spacingAndGlyphs">permintaan impor barang konsumsi mencapai USD 1,1 miliar, atau meningkat sebesar 4,8% dibanding bulan yang sama tahun lalu</text>
<text x="1232" y="432.9" class="gi" textLength="537" lengthAdjust="spacingAndGlyphs">(YoY). Kenaikan permintaan impor ini lebih besar dibanding kenaikan tahun lalu yang hanya sebesar 1,7%. Meskipun demikian, barang-</text>
<text x="1232" y="445.1" class="gi" textLength="537" lengthAdjust="spacingAndGlyphs">barang yang diimpor kebanyakan masih berupa bahan baku/penolong dan barang modal. Impor bahan baku/penolong mengalami</text>
<text x="1232" y="457.3" class="gi" textLength="537" lengthAdjust="spacingAndGlyphs">penurunan 2,2% (YoY), menjadi USD 12,4 miliar di bulan April 2014. Sementara permintaan impor barang modal mengalami sedikit</text>
<text x="1232" y="469.5" class="gi" textLength="209" lengthAdjust="spacingAndGlyphs">kenaikan, sebesar 0,9% (YoY), menjadi USD 2,7 miliar.</text>

<rect x="1260" y="475" width="225" height="16" fill="#3a7ad8" stroke="#1f4fa0" stroke-width="0.6" stroke-dasharray="2,1"/>
<text x="1372.5" y="486.5" font-size="9" font-weight="bold" fill="#fff" text-anchor="middle" textLength="106" lengthAdjust="spacingAndGlyphs">Struktur Impor April 2014</text>
<rect x="1512" y="475" width="227" height="16" fill="#3a7ad8" stroke="#1f4fa0" stroke-width="0.6" stroke-dasharray="2,1"/>
<text x="1625.5" y="486.5" font-size="9" font-weight="bold" fill="#fff" text-anchor="middle" textLength="159" lengthAdjust="spacingAndGlyphs">Nilai &amp; Pertumbuhan Impor April 2014</text>

<!-- import pies -->
<path d="M1306 571.5 L1306 526.5 A45 45 0 0 1 1324.16 530.33 Z" fill="#4a8cf0"/>
<path d="M1306 571.5 L1324.16 530.33 A45 45 0 1 1 1267.87 547.6 Z" fill="#c8284a"/>
<path d="M1306 571.5 L1267.87 547.6 A45 45 0 0 1 1306 526.5 Z" fill="#8ee030"/>
<path d="M1442 571 L1442 526 A45 45 0 0 1 1461.16 530.28 Z" fill="#4a8cf0"/>
<path d="M1442 571 L1461.16 530.28 A45 45 0 1 1 1403.43 547.82 Z" fill="#c8284a"/>
<path d="M1442 571 L1403.43 547.82 A45 45 0 0 1 1442 526 Z" fill="#8ee030"/>
<g font-size="6" font-weight="bold" fill="#333" text-anchor="middle">
<text x="1273" y="501">Barang</text><text x="1273" y="510">Modal</text><text x="1273" y="519">16.1%</text>
<text x="1343" y="499">Barang</text><text x="1343" y="509">Konsumsi</text><text x="1347" y="518">6.6%</text>
<text x="1393" y="511">Barang</text><text x="1393" y="522">Modal</text><text x="1393" y="531">16.5%</text>
<text x="1463" y="505">Barang</text><text x="1463" y="514">Konsumsi</text><text x="1466" y="523">7.0%</text>
</g>
<g stroke="#222" stroke-width="0.5" fill="none">
<path d="M1284 520 L1284 532"/><path d="M1340 518 L1322 530"/><path d="M1402 531 L1420 534"/><path d="M1460 524 L1452 530"/>
</g>
<g font-size="6" font-weight="bold" fill="#fde" text-anchor="middle">
<text x="1319" y="576">Bahan</text><text x="1319" y="585">Penolong</text><text x="1319" y="594">77.3%</text>
<text x="1461" y="584">Bahan</text><text x="1461" y="593">Penolong</text><text x="1461" y="602">76.6%</text>
</g>
<text x="1307" y="629" font-size="8" font-weight="bold" fill="#222" text-anchor="middle">Apr 2013</text>
<text x="1445" y="628" font-size="8" font-weight="bold" fill="#222" text-anchor="middle">Apr 2014</text>

<!-- import bars -->
<text x="1570" y="509" font-size="7" font-weight="bold" fill="#222" text-anchor="middle" textLength="62" lengthAdjust="spacingAndGlyphs">Nilai (USD Miliar)</text>
<text x="1701" y="509" font-size="7" font-weight="bold" fill="#222" text-anchor="middle" textLength="79" lengthAdjust="spacingAndGlyphs">Pertumbuhan (%, YoY)</text>
<g font-size="6" font-weight="bold" fill="#333" text-anchor="middle">
<text x="1521" y="529">Barang</text><text x="1521" y="538">Konsumsi</text>
<text x="1521" y="562">Bahan</text><text x="1521" y="571">Penolong</text>
<text x="1521" y="596">Barang</text><text x="1521" y="605">Modal</text>
</g>
<line x1="1543" y1="514" x2="1543" y2="614" stroke="#bbb" stroke-width="0.8"/>
<line x1="1719" y1="514" x2="1719" y2="614" stroke="#bbb" stroke-width="0.8"/>
<g fill="#c8284a">
<rect x="1543" y="519" width="7" height="12"/><rect x="1543" y="553" width="79.4" height="11"/><rect x="1543" y="587" width="17.3" height="11"/>
<rect x="1719" y="519" width="9.6" height="12"/><rect x="1714.6" y="553" width="4.4" height="11"/><rect x="1719" y="587" width="1.8" height="11"/>
</g>
<g fill="#4a90f0">
<rect x="1543" y="531" width="7" height="11"/><rect x="1543" y="565" width="81.3" height="11"/><rect x="1543" y="598" width="17.3" height="11"/>
<rect x="1719" y="531" width="3.4" height="11"/><rect x="1719" y="565" width="3.6" height="11"/><rect x="1676.8" y="598" width="42.2" height="11"/>
</g>
<g font-size="6" font-weight="bold">
<text x="1553" y="528" fill="#d8283c">1.1</text><text x="1553" y="539" fill="#4a90f0">1.1</text>
<text x="1626" y="561" fill="#d8283c">12.4</text><text x="1627" y="573" fill="#4a90f0">12.7</text>
<text x="1564" y="595" fill="#d8283c">2.7</text><text x="1564" y="606" fill="#4a90f0">2.7</text>
<text x="1732" y="528" fill="#d8283c">4.8</text><text x="1726" y="539" fill="#4a90f0">1.7</text>
<text x="1711" y="561" fill="#d8283c" text-anchor="end">-2.2</text><text x="1727" y="572" fill="#4a90f0">1.8</text>
<text x="1724" y="595" fill="#d8283c">0.9</text><text x="1673" y="606" fill="#4a90f0" text-anchor="end">-21.1</text>
</g>
<rect x="1606" y="605" width="4" height="4" fill="#c8284a"/>
<text x="1611" y="609.5" font-size="6.5" font-weight="bold" fill="#222" textLength="28" lengthAdjust="spacingAndGlyphs">Apr 2014</text>
<rect x="1606" y="612" width="4" height="4" fill="#4a90f0"/>
<text x="1611" y="616.5" font-size="6.5" font-weight="bold" fill="#222" textLength="28" lengthAdjust="spacingAndGlyphs">Apr 2013</text>
<text x="1643" y="629" class="src" font-size="4.5" style="font-size:4.5px" textLength="83" lengthAdjust="spacingAndGlyphs">Sumber: BPS (diolah Pusdo Daglu)</text>

<text x="1233" y="647.3" class="gi" textLength="536" lengthAdjust="spacingAndGlyphs">Secara kumulatif, total impor selama Januari hingga April 2014 mencapai USD 59,5 miliar, atau turun 4,2% (YoY). Penurunan ini</text>
<text x="1233" y="661.6" class="gi" textLength="536" lengthAdjust="spacingAndGlyphs">disebabkan oleh baik menurunnya impor sektor non-migas sebesar 4,6% menjadi USD 44,8 miliar maupun impor migas sebesar 2,9%</text>
<text x="1233" y="676" class="gi" textLength="536" lengthAdjust="spacingAndGlyphs">menjadi USD 14,7 miliar. Penurunan impor migas dipicu oleh turunnya permintaan impor minyak mentah dan hasil minyak masing-</text>
<text x="1233" y="690.6" class="gi" textLength="536" lengthAdjust="spacingAndGlyphs">masing sebesar 6,4% dan 1,6%. Sementara itu, penurunan impor  non-migas ditekan oleh melemahnya impor antara lain Kendaraan</text>
<text x="1233" y="705" class="gi" textLength="386" lengthAdjust="spacingAndGlyphs">dan Bagiannya (turun 23,8%), Besi dan baja (21,0%) serta Benda-benda dari besi dan baja (18,8%).</text>

<!-- footer -->
<rect x="1203" y="722" width="447" height="90" fill="#3c5cc2" stroke="#5a78d0" stroke-width="1"/>
<text x="1223" y="735" font-size="12" fill="#fff" textLength="189" lengthAdjust="spacingAndGlyphs">Pusat Kebijakan Perdagangan Luar Negeri</text>
<text x="1223" y="745" font-size="8" font-weight="bold" fill="#fff" textLength="224" lengthAdjust="spacingAndGlyphs">Badan Pengkajian &amp; Pengembangan Kebijakan Perdagangan</text>
<text x="1223" y="755" font-size="8" font-weight="bold" fill="#fff" textLength="107" lengthAdjust="spacingAndGlyphs">Kementerian Perdagangan RI</text>
<g font-size="7" font-weight="bold" fill="#fff">
<text x="1223" y="768.5" textLength="82" lengthAdjust="spacingAndGlyphs">Jl. M.I. Ridwan Rais No.5</text>
<text x="1223" y="777.5" textLength="38" lengthAdjust="spacingAndGlyphs">Jakarta 10110</text>
<text x="1223" y="786" textLength="58" lengthAdjust="spacingAndGlyphs">Gedung Utama Lt,16</text>
<text x="1223" y="794.5" textLength="150" lengthAdjust="spacingAndGlyphs">Telp. +62 21 2352 8683 Fax. +62 21 2352 8693</text>
<text x="1505" y="789.5" textLength="115" lengthAdjust="spacingAndGlyphs">Email     : puska.daglu@kemendag.go.id</text>
<text x="1505" y="797.5" textLength="92" lengthAdjust="spacingAndGlyphs">Website : www.kemendag.go.id</text>
</g>
<path d="M1445 752V798M1449 752V798" stroke="#dde" stroke-width="0.8"/>
<text x="1654" y="739" font-size="21" fill="#5a5a5a" textLength="124" lengthAdjust="spacingAndGlyphs">remarkable</text>
<text x="1654" y="760" font-size="23" fill="#e3262c" textLength="124" lengthAdjust="spacingAndGlyphs">indonesia</text>
<rect x="1763" y="770" width="14" height="15" fill="#5ad6b9"/>
<rect x="1763" y="785" width="14" height="27" fill="#13233f"/>
<text x="1770" y="781" font-size="8" font-weight="bold" fill="#fff" text-anchor="middle">03</text>
</svg>
</body></html>
